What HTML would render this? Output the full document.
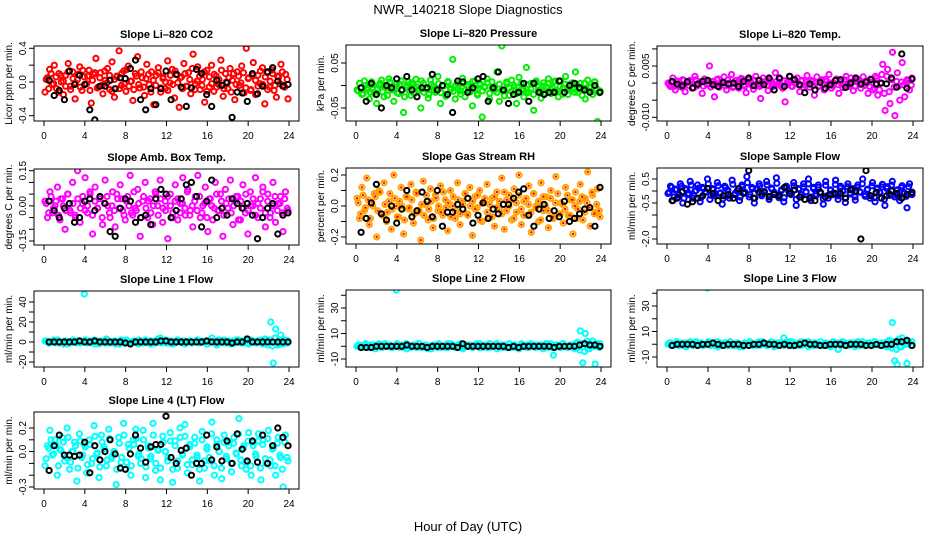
<!DOCTYPE html>
<html><head><meta charset="utf-8">
<style>
html,body{margin:0;padding:0;background:#fff;}
svg{display:block;font-family:"Liberation Sans",sans-serif;}
</style></head>
<body>
<svg id="chart" width="936" height="540" viewBox="0 0 936 540" xmlns="http://www.w3.org/2000/svg">
<rect x="0" y="0" width="936" height="540" fill="#fff"/>
<text x="468" y="14" text-anchor="middle" font-size="13">NWR_140218  Slope Diagnostics</text>
<text x="468" y="531" text-anchor="middle" font-size="13">Hour of Day (UTC)</text>
</svg>
<script>
const hourTicks = [0,4,8,12,16,20,24];

const co2Color = [-12,5,15,-3,20,-8,10,0,-15,8,22,-5,12,-20,3,18,-10,6,-2,14,-25,9,28,-6,11,-14,2,16,-9,24,-18,7,37,-4,13,-11,19,1,-22,10,30,-7,5,-16,21,-3,12,-27,8,17,-12,4,-8,25,-1,15,-19,9,-30,6,22,-5,11,-14,33,-2,18,-9,3,-24,14,-6,20,-11,7,-3,26,-17,10,-8,16,2,-21,12,-4,19,-13,40,5,-9,23,-15,8,-2,17,-26,11,-6,14,-10,-18,6,21,-4,9,-20];
const co2ColorB = [3,-8,10,-2,6,-12,8,1,-5,12,-9,4,-1,9,-6,14,-3,7,-10,2,11,-7,5,-4,13,-1,8,-11,3,6,-8,10,-2,15,-5,1,-9,7,-3,12,-6,4,9,-12,2,-4,11,-7,6,0,-10,8,-3,13,-1,5,-8,10,-5,3,16,-9,1,7,-4,12,-11,6,-2,9,-6,3,14,-8,0,5,-12,10,-3,7,-1,11,-7,4,-10,8,2,-5,13,-3,6,-9,1,10,-4,7,-2,12,-6,3];
const co2Black = [2,-16,-10,-21,13,-3,8,-3,-33,-45,-5,-5,2,-8,5,4,16,26,-21,-33,-8,-27,-8,13,-21,9,-6,-29,-7,15,10,-15,-29,2,-4,-1,-42,-12,-13,-23,10,-14,-5,12,17,1,-5,-3];

const presColor = [-10,5,-20,10,-5,-30,8,-15,-40,0,12,-25,-5,15,-10,-35,3,-18,10,-60,-5,8,-22,2,14,-12,-50,5,-8,-28,12,-3,-15,20,-40,0,-20,9,-6,58,-30,4,-12,16,-25,2,-8,-45,10,-18,5,-70,-2,15,-30,8,-10,30,-35,88,-12,4,-22,12,-5,-40,18,-8,-25,40,-15,5,-55,10,-10,-28,6,-3,15,-18,8,-12,-25,10,-5,20,-20,3,-8,30,-15,5,-10,-30,12,-5,-20,8,-80,-12];
const presColorB = [-12,-5,-18,0,-8,-15,2,-20,-6,5,-14,-2,-22,8,-10,-4,-16,3,-9,-25,0,-12,6,-18,-3,-8,10,-15,-5,-20,2,-11,-7,4,-16,-1,-24,7,-9,-13,0,-6,-19,5,-10,-3,-14,9,-8,-21,1,-12,-4,6,-17,-7,-2,-15,3,-11,-23,8,-6,-13,0,-18,-4,5,-10,-16,2,-8,-20,7,-3,-12,-1,-17,4,-9,-6,10,-14,-2,-19,3,-11,-5,6,-15,0,-8,-22,5,-10,-3,-13,8,-7,-16];
const presBlack = [-5,-35,5,-20,-50,0,-5,15,-10,20,-10,-25,-5,-5,25,-10,0,-20,-60,10,8,-15,-5,15,20,-35,-5,30,-10,-40,-20,-15,5,-35,5,-15,-20,-15,-15,10,-15,0,5,-5,-10,-15,0,-15];

const tempColor = [0,-10,15,-20,5,-5,10,-25,2,8,-15,20,-8,3,-30,12,-5,50,-2,-40,10,-12,5,18,-20,0,25,-10,8,-15,14,-5,-28,10,2,-18,20,-8,-45,15,5,-22,8,-10,30,-3,12,-15,-55,5,20,-10,0,15,-25,8,-5,22,-12,3,-35,18,-8,10,-20,5,25,-15,0,12,-30,8,-5,20,-10,15,-22,5,10,-15,18,-5,-30,12,-20,20,-35,0,55,-80,40,-60,90,-95,30,-50,60,-40,10,-20,15];
const tempColorB = [-5,3,-10,6,-2,-12,8,0,-7,4,-14,10,-3,2,-9,7,-1,-11,5,-6,12,-4,0,-8,9,-2,-13,6,1,-5,11,-9,3,-1,-7,8,-3,-10,4,0,-6,13,-2,-8,5,2,-11,7,-4,0,-9,10,-1,-5,6,-12,3,-3,8,-7,1,-10,5,-2,11,-6,0,-8,7,-4,2,-13,9,-1,-5,4,-9,12,-3,0,-7,6,-10,2,-15,15,-20,25,-30,20,-25,10,-12,5,-8,3,-5,0,8,-6];
const tempBlack = [5,-3,-8,4,-14,-3,5,8,-5,-10,2,-3,0,-10,5,15,-8,8,-5,15,-20,15,-10,20,10,-5,-28,-3,-20,2,-15,-5,8,10,-13,0,15,-3,3,10,-3,0,-2,15,-12,85,-15,12];

const ambColor = [2,-5,6,-3,0,8,-6,3,-10,5,-2,10,-4,15,-7,1,12,-3,5,-12,8,-1,4,-8,11,0,-5,6,-9,3,9,-2,-6,4,13,-4,-1,7,-13,2,10,-5,3,-8,6,0,11,-7,2,-14,5,-3,9,-6,1,12,-4,7,-2,-9,4,13,-5,0,8,-11,3,-6,10,-2,5,-13,7,-1,11,-8,2,4,-6,9,-3,-12,6,0,12,-5,3,8,-9,5,-3,10,-7,1,4,-11,6,-2];
const ambColorB = [1,-3,4,-1,2,-4,3,0,-2,5,-3,1,-5,3,-1,4,-2,0,6,-4,2,-1,3,-5,1,4,-3,0,-2,5,-1,3,-4,2,0,-3,6,-2,1,-5,4,-1,2,-3,0,5,-4,3,-1,-2,4,0,-5,2,3,-3,1,-1,6,-4,0,2,-2,4,-3,1,-5,3,0,-1,5,-2,2,-4,1,3,-3,0,4,-6,2,-1,5,-2,0,3,-4,1,-1,6,-3,2,-5,0,4,-2,1,-3,3,-1];
const ambBlack = [2,-2,-5,-1,1,-7,-5,2,3,-2,4,1,-11,-13,-1,3,2,-7,-5,-4,-8,3,7,5,-5,-2,3,9,10,4,-9,2,11,-5,-1,-4,3,1,-1,1,-4,-14,-5,-1,1,-12,-4,-3];

const rhColor = [5,-8,12,-3,18,-12,2,8,-20,10,-5,15,-10,3,-15,20,0,-7,12,-18,6,-2,14,-11,9,-4,-22,16,1,-9,11,-14,7,-3,13,-6,4,-16,10,0,-8,15,-12,3,8,-5,12,-19,6,-1,10,-10,2,14,-7,5,-13,9,-2,18,-15,4,7,-9,11,-4,20,-12,3,-6,13,-17,8,0,-10,15,-3,6,-14,10,-8,19,-5,2,-11,12,-6,4,-18,9,-2,14,-9,5,22,-13,7,-4,11,-7];
const rhColorB = [2,-5,7,-1,4,-8,0,6,-3,9,-6,1,-4,8,-2,5,-7,3,0,-9,6,-1,4,-5,8,-3,1,-6,7,-2,3,-8,5,0,-4,9,-1,2,-7,6,-3,4,-5,1,8,-6,0,3,-2,7,-9,2,5,-4,1,-7,6,-1,3,-5,9,-3,0,4,-8,2,7,-2,-6,5,1,-4,8,-1,3,-9,6,0,-3,5,-7,2,8,-5,1,-2,7,-6,4,0,-8,3,6,-4,2,-1,9,-5,1,-3];
const rhBlack = [-17,-8,2,14,-5,-9,0,-11,-2,10,-7,-3,9,3,-7,10,-13,-4,-4,1,-2,5,-11,-6,2,-8,-2,-5,1,1,5,9,11,-6,-13,-2,1,-8,-3,-7,3,-10,-8,-5,-2,-1,-13,12];

const flowColor = [-10,20,-40,5,-25,30,-50,10,-15,40,-30,0,25,-45,15,-5,50,-35,10,-20,35,-10,-55,20,5,-30,45,-15,0,-40,25,-8,60,-25,15,-50,10,30,-20,-5,40,-35,12,-10,55,-28,5,-45,20,0,-15,35,-60,10,-25,30,-5,50,-40,15,-20,25,-10,-55,40,-30,5,-15,45,-35,20,0,-48,30,-12,10,-38,25,-5,50,-22,8,-30,35,-45,12,-8,28,-60,18,-18,40,-25,5,-40,22,-10,-70,30,-15];
const flowColorB = [-5,15,-25,8,-15,20,-30,5,-10,25,-20,2,12,-28,10,-3,30,-18,6,-12,22,-8,-32,14,3,-20,28,-10,0,-25,18,-5,35,-15,9,-30,6,20,-12,-2,26,-22,8,-6,32,-16,3,-28,14,0,-10,22,-35,7,-15,18,-3,30,-25,10,-12,15,-6,-32,24,-18,3,-9,28,-20,12,0,-30,18,-8,6,-24,15,-3,30,-14,5,-18,22,-28,8,-5,17,-35,11,-11,25,-16,3,-25,14,-6,-22,18,-9];
const flowBlack = [-40,-30,-3,-55,-45,-30,-20,10,-10,-40,-20,-15,-30,10,-10,85,-30,-5,-5,-25,-15,-20,15,-10,5,-25,-35,-30,-40,-5,-25,-15,-10,-10,-30,5,0,-200,85,-20,-5,-30,-20,0,-10,-30,-15,-5];

const line1Color = [1,0,-1,1,0,2,-1,0,1,-2,0,1,0,-1,1,0,48,0,1,-1,2,0,-2,1,0,3,-1,0,1,-2,0,2,1,-1,0,-1,1,0,-2,1,0,2,-1,1,0,-1,3,4,0,-1,1,0,-2,1,2,0,-1,1,0,1,-1,0,2,-1,1,0,-2,1,4,0,-3,1,0,2,-1,1,0,-1,2,0,1,-1,3,-2,0,1,-1,0,2,-1,1,0,20,-21,13,-3,7,-2,2,1];
const line1Black = [0,0,0,0,0,0,1,0,0,1,0,0,0,0,0,-1,-2,0,0,0,0,0,1,1,0,0,0,0,0,0,0,1,0,0,0,0,-1,0,0,3,0,0,0,0,0,0,0,0];
const line2Color = [0,1,-1,0,1,0,-1,1,0,2,-1,0,1,0,-1,0,44,1,0,-1,2,0,-1,1,0,2,-1,0,1,-2,0,1,0,-1,1,0,-1,2,0,1,-1,0,2,-1,0,1,0,-1,1,0,2,-1,0,1,-1,0,1,2,0,-1,1,0,-1,0,1,-1,0,2,0,-1,1,0,1,-1,0,1,0,2,-1,0,-7,1,0,-1,2,0,-1,1,0,2,-1,12,-13,10,-2,2,4,-14,1,2];
const line2Black = [-1,-1,-1,0,0,0,0,0,0,1,0,0,0,-1,0,0,0,0,0,-1,2,0,0,0,0,0,0,0,0,-1,0,-1,0,0,0,0,0,0,-1,0,0,0,0,1,2,1,1,0];
const line3Color = [0,1,-1,0,1,0,-1,1,0,2,-1,0,1,0,-1,0,44,1,0,-1,2,0,-1,1,0,2,-1,0,1,-2,0,1,0,-1,1,0,-1,2,0,1,-1,0,2,-1,0,1,0,5,1,0,2,-1,0,1,-1,0,1,2,0,-1,1,0,-1,0,1,-1,0,2,0,-4,1,0,1,-1,0,1,0,2,-1,0,-1,1,0,-1,2,0,-1,1,0,2,-1,17,-13,-16,-2,5,2,-15,1,2];
const line3Black = [-1,0,0,0,0,-1,0,0,1,0,-1,0,0,0,-1,-1,0,0,1,0,0,-1,0,-1,-1,0,1,0,0,-1,-1,0,0,0,-1,0,0,0,-1,-1,0,-1,0,0,2,2,3,-1];
const lineFlowB = [1,-1,0,2,-1,1,0,-2,1,0,-1,2,0,1,-1,0,2,-1,1,0,-2,1,0,1,-1,2,0,-1,1,0,-2,1,0,2,-1,0,1,-1,2,0,-1,1,0,-2,1,0,1,-1,0,2,-1,1,0,-1,2,0,1,-2,0,1,-1,0,2,-1,1,0,-2,1,0,1,-1,2,0,-1,1,0,-2,1,0,2,-1,0,1,-1,2,0,-1,1,0,-2,3,-3,2,-4,4,-2,1,0,2,-1];

const line4Color = [-12,5,18,-3,10,-20,2,12,-8,20,-15,0,8,-25,15,-5,6,-18,10,-10,22,-2,-22,14,4,-12,19,-6,0,-28,12,-9,24,-15,6,-20,10,19,-4,-10,18,-22,5,-6,24,-16,2,-24,13,0,-8,16,-26,9,-14,20,-3,23,-18,6,-11,12,-5,-25,17,-14,4,-8,25,-20,10,0,-23,14,-6,8,-17,12,-2,28,-12,5,-15,16,-20,8,-4,15,-24,10,-10,18,-12,3,-20,12,-5,-30,14,-8];
const line4ColorB = [-6,3,10,-2,6,-12,1,8,-5,12,-9,0,5,-14,9,-3,4,-11,6,-6,13,-1,-13,8,2,-7,11,-4,0,-15,7,-5,14,-9,3,-12,6,11,-2,-6,10,-13,3,-4,14,-10,1,-14,8,0,-5,9,-15,5,-8,12,-2,13,-11,4,-7,7,-3,-15,10,-8,2,-5,15,-12,6,0,-14,8,-4,5,-10,7,-1,15,-7,3,-9,9,-12,5,-2,9,-14,6,-6,11,-7,2,-12,7,-3,-15,8,-5];
const line4Black = [-16,5,14,-3,-3,-4,-3,8,-18,5,-7,0,10,-2,-14,-15,-2,14,3,-9,4,6,6,30,-5,-10,1,3,-20,-10,-10,14,-7,4,-8,9,-10,15,2,-8,9,-9,14,-10,5,20,12,5];

const panels = [
 {name:'co2', title:'Slope Li\u2013820 CO2', ylab:'Licor ppm per min.', color:'#ff0000', cdata:co2Color, cdataB:co2ColorB, bdata:co2Black, scale:0.01,
  box:[34,46,299,121], cal:[0.4,48.3,-0.4,115.7], ticks:[-0.4,-0.2,0,0.2,0.4], labels:[[0.4,'0.4'],[0,'0.0'],[-0.4,'-0.4']]},
 {name:'pressure', title:'Slope Li\u2013820 Pressure', ylab:'kPa per min.', color:'#00ee00', cdata:presColor, cdataB:presColorB, bdata:presBlack, scale:0.001,
  box:[346,45,611,121], cal:[0.05,63,-0.05,108], ticks:[-0.05,0,0.05], labels:[[0.05,'0.05'],[-0.05,'-0.05']]},
 {name:'temp', title:'Slope Li\u2013820 Temp.', ylab:'degrees C per min.', color:'#ff00ff', cdata:tempColor, cdataB:tempColorB, bdata:tempBlack, scale:0.0001,
  box:[657,46,923,121], cal:[0.005,66,-0.010,117.3], ticks:[-0.01,-0.005,0,0.005,0.01], labels:[[0.005,'0.005'],[-0.01,'-0.010']]},
 {name:'amb-box-temp', title:'Slope Amb. Box Temp.', ylab:'degrees C per min.', color:'#ff00ff', cdata:ambColor, cdataB:ambColorB, bdata:ambBlack, scale:0.01,
  box:[34,169,299,245], cal:[0.15,170.7,-0.15,241], ticks:[-0.15,-0.1,-0.05,0,0.05,0.1,0.15], labels:[[0.15,'0.15'],[0,'0.00'],[-0.15,'-0.15']]},
 {name:'gas-stream-rh', title:'Slope Gas Stream RH', ylab:'percent per min.', color:'#ffa500', inner:'#ff0000', cdata:rhColor, cdataB:rhColorB, bdata:rhBlack, scale:0.01,
  box:[346,168,611,244], cal:[0.2,175,-0.2,237], ticks:[-0.2,-0.1,0,0.1,0.2], labels:[[0.2,'0.2'],[0,'0.0'],[-0.2,'-0.2']]},
 {name:'sample-flow', title:'Slope Sample Flow', ylab:'ml/min per min.', color:'#0000ff', cdata:flowColor, cdataB:flowColorB, bdata:flowBlack, scale:0.01,
  box:[657,168,923,244], cal:[0.5,179,-0.5,203], ticks:[0.5,0,-0.5,-1,-1.5,-2], labels:[[0.5,'0.5'],[-0.5,'-0.5'],[-2,'-2.0']]},
 {name:'line1-flow', title:'Slope Line 1 Flow', ylab:'ml/min per min.', color:'#00ffff', cdata:line1Color, cdataB:lineFlowB, bdata:line1Black, scale:1,
  box:[34,291,299,367], cal:[40,302,-20,362], ticks:[-20,-10,0,10,20,30,40], labels:[[40,'40'],[20,'20'],[0,'0'],[-20,'-20']]},
 {name:'line2-flow', title:'Slope Line 2 Flow', ylab:'ml/min per min.', color:'#00ffff', cdata:line2Color, cdataB:lineFlowB, bdata:line2Black, scale:1,
  box:[346,290,611,367], cal:[30,308,-10,359], ticks:[-10,0,10,20,30,40], labels:[[30,'30'],[10,'10'],[-10,'-10']]},
 {name:'line3-flow', title:'Slope Line 3 Flow', ylab:'ml/min per min.', color:'#00ffff', cdata:line3Color, cdataB:lineFlowB, bdata:line3Black, scale:1,
  box:[657,290,923,367], cal:[30,306,-10,357], ticks:[-10,0,10,20,30,40], labels:[[30,'30'],[10,'10'],[-10,'-10']]},
 {name:'line4-flow', title:'Slope Line 4 (LT) Flow', ylab:'ml/min per min.', color:'#00ffff', cdata:line4Color, cdataB:line4ColorB, bdata:line4Black, scale:0.01,
  box:[34,412,299,489], cal:[0.2,428,-0.3,487], ticks:[-0.3,-0.2,-0.1,0,0.1,0.2], labels:[[0.2,'0.2'],[0,'0.0'],[-0.3,'-0.3']]}
];

const NS='http://www.w3.org/2000/svg';
const svg=document.getElementById('chart');
function mk(tag,attrs,parent){const e=document.createElementNS(NS,tag);for(const k in attrs)e.setAttribute(k,attrs[k]);(parent||svg).appendChild(e);return e;}

panels.forEach(p=>{
  const [L,T,R,B]=p.box;
  const g=mk('g',{});
  
  
  const xs=h=>L+10+(h/24)*(R-L-20);
  const [v1,p1,v2,p2]=p.cal;
  const ys=v=>p1+(v-v1)*(p2-p1)/(v2-v1);
  const clip='clip-'+p.name;
  const cp=mk('clipPath',{id:clip},g);
  mk('rect',{x:L,y:T,width:R-L,height:B-T},cp);
  const t=mk('text',{x:(L+R)/2,y:T-8,'text-anchor':'middle','font-size':'11','font-weight':'bold'},g);
  t.textContent=p.title;
  
  
  const yl=mk('text',{x:0,y:0,'text-anchor':'middle','font-size':'10',transform:`translate(${L-22},${(T+B)/2}) rotate(-90)`},g);
  yl.textContent=p.ylab;
  
  
  const pts=mk('g',{'clip-path':`url(#${clip})`},g);
  
  
  function drawColor(arr,start,span){
    const n=arr.length;
    arr.forEach((v,i)=>{
      const h=start+i*span/(n-1);
      const cx=xs(h).toFixed(1), cy=ys(v*p.scale).toFixed(1);
      const c=mk('circle',{cx:cx,cy:cy,r:2.6,fill:'none',stroke:p.color,'stroke-width':2},pts);
      
      
      if(p.inner){
        const d=mk('circle',{cx:cx,cy:cy,r:1.2,fill:p.inner},pts);
        
        
      }
    });
  }
  drawColor(p.cdata,0.1,23.8);
  drawColor(p.cdataB,0.22,23.6);
  const m=p.bdata.length;
  p.bdata.forEach((v,i)=>{
    const h=0.5+i*23.4/(m-1);
    const c=mk('circle',{cx:xs(h).toFixed(1),cy:ys(v*p.scale).toFixed(1),r:2.6,fill:'none',stroke:'#000','stroke-width':2},pts);
    
    
  });
  const bx=mk('rect',{x:L,y:T,width:R-L,height:B-T,fill:'none',stroke:'#000','stroke-width':1},g);
  
  
  hourTicks.forEach(h=>{
    mk('line',{x1:xs(h),x2:xs(h),y1:B,y2:B+5,stroke:'#000'},g);
    const tl=mk('text',{x:xs(h),y:B+18,'text-anchor':'middle','font-size':'10'},g);
    tl.textContent=h;
    
    
  });
  p.ticks.forEach(v=>{
    const y=ys(v); if(y<T-3||y>B+3) return;
    mk('line',{x1:L-5,x2:L,y1:y,y2:y,stroke:'#000'},g);
  });
  p.labels.forEach(([v,s])=>{
    const tl=mk('text',{x:0,y:0,'text-anchor':'middle','font-size':'10',transform:`translate(${L-8},${ys(v)}) rotate(-90)`},g);
    tl.textContent=s;
    
    
  });
});
</script>
</body></html>
